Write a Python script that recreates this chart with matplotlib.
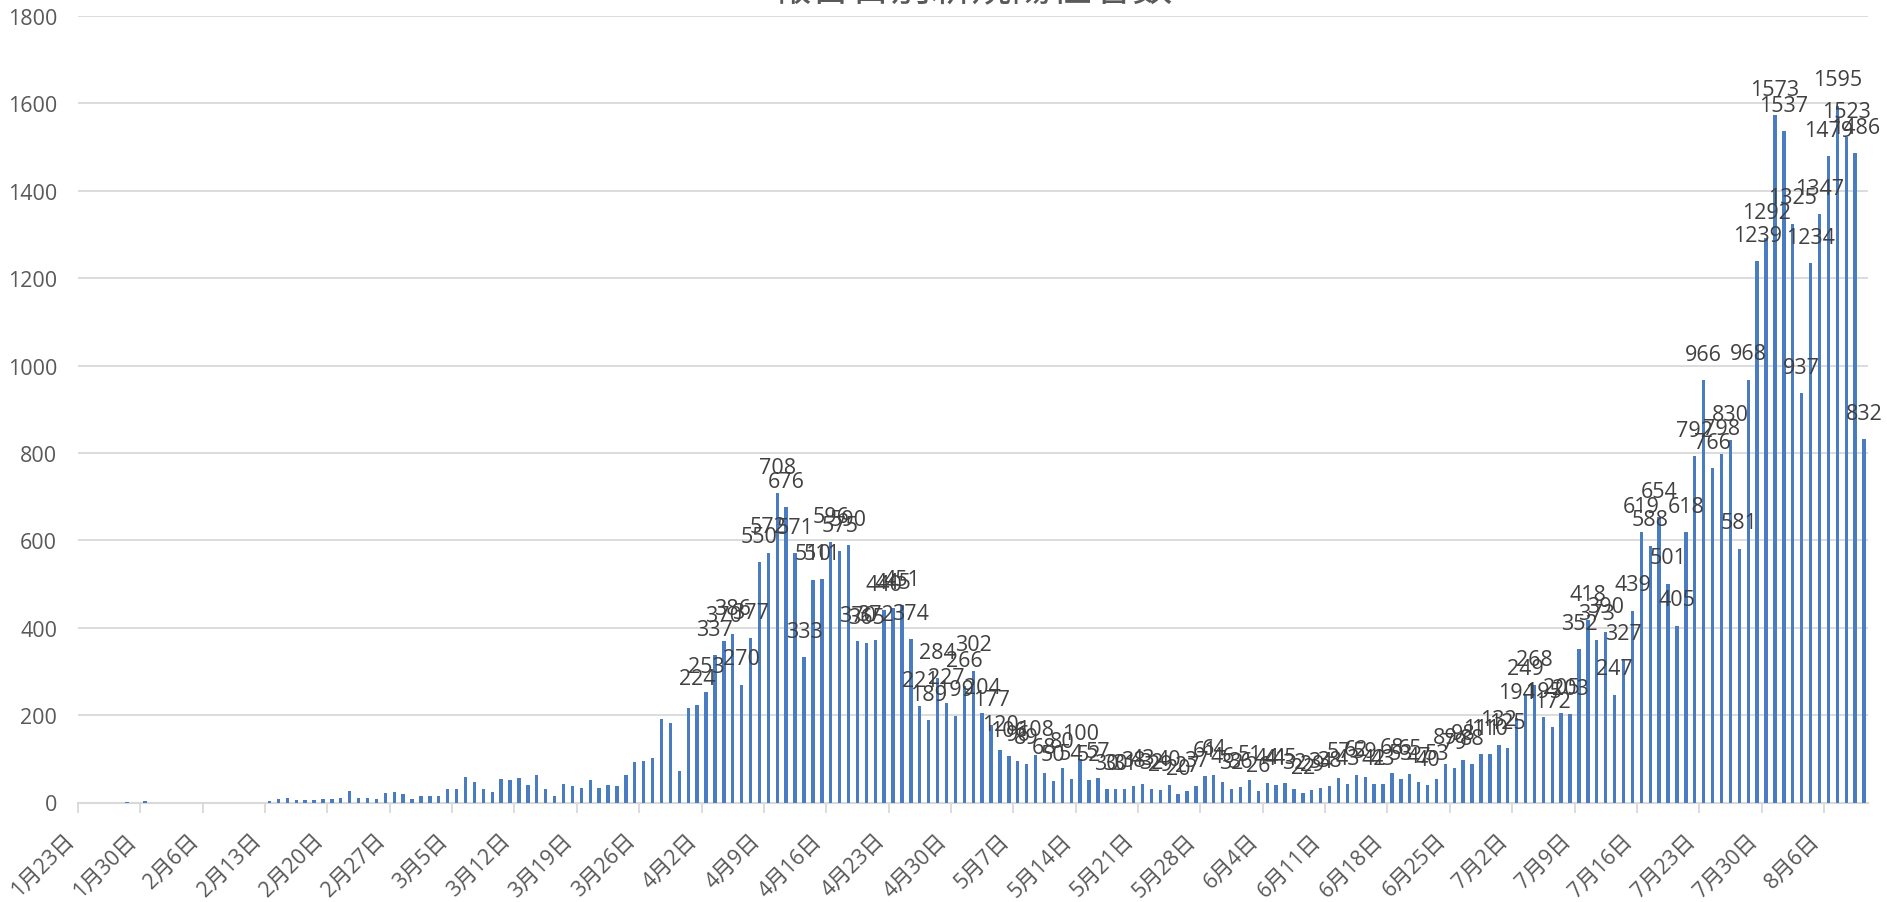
import matplotlib
matplotlib.use('Agg')
import matplotlib.pyplot as plt
import matplotlib.transforms as mtransforms
import numpy as np
import pandas as pd

plt.rcParams['font.family'] = ['Open Sans', 'Noto Sans CJK JP', 'DejaVu Sans']

# 報告日別新規陽性者数 (2020/1/23 - 8/10)
start_date = '2020-01-23'
label_start = '2020-04-01'
title = '報告日別新規陽性者数'

cases = [
    0, 0, 0, 0, 0, 2, 0, 3, 0, 0,            # 1/23 - 2/1
    0, 0, 0, 0, 0, 0, 0, 0, 0, 0,            # 2/2 - 2/11
    0, 3, 7, 11, 5, 6, 6, 9, 8, 10,          # 2/12 - 2/21
    26, 11, 11, 7, 21, 23, 19, 8, 14, 14,    # 2/22 - 3/2
    15, 32, 31, 58, 47, 32, 25, 53, 51, 55,  # 3/3 - 3/12
    40, 62, 32, 14, 42, 38, 34, 52, 33, 40,  # 3/13 - 3/22
    37, 63, 92, 95, 102, 192, 183, 73, 217, 224,   # 3/23 - 4/1
    253, 337, 370, 386, 270, 377, 550, 572, 708, 676,  # 4/2 - 4/11
    571, 333, 510, 511, 596, 575, 590, 370, 365, 372,  # 4/12 - 4/21
    440, 445, 451, 374, 221, 189, 284, 227, 199, 266,  # 4/22 - 5/1
    302, 204, 177, 120, 106, 96, 89, 108, 68, 50,      # 5/2 - 5/11
    80, 54, 100, 52, 57, 30, 30, 31, 38, 43,           # 5/12 - 5/21
    32, 29, 40, 20, 27, 37, 61, 64, 46, 32,            # 5/22 - 5/31
    36, 51, 26, 44, 41, 45, 32, 22, 29, 34,            # 6/1 - 6/10
    38, 57, 43, 62, 59, 42, 43, 68, 53, 65,            # 6/11 - 6/20
    47, 40, 53, 89, 79, 98, 88, 111, 110, 132,         # 6/21 - 6/30
    125, 194, 249, 268, 195, 172, 205, 203, 352, 418,  # 7/1 - 7/10
    373, 390, 247, 327, 439, 619, 588, 654, 501, 405,  # 7/11 - 7/20
    618, 792, 966, 766, 798, 830, 581, 968, 1239, 1292,  # 7/21 - 7/30
    1573, 1537, 1325, 937, 1234, 1347, 1479, 1595, 1523, 1486,  # 7/31 - 8/9
    832,                                               # 8/10
]

dates = pd.date_range(start_date, periods=len(cases), freq='D')
tick_dates = dates[::7]
tick_labels = [f'{d.month}月{d.day}日' for d in tick_dates]

fig = plt.figure(figsize=(18.87, 9.03), dpi=100)
ax = fig.add_axes([78 / 1887, (903 - 803.5) / 903, (1868.5 - 78) / 1887, (803.5 - 17) / 903])

x = np.arange(len(cases))
ax.bar(x + 0.5, cases, width=0.38, color='#4a7cc2', zorder=3)

# data labels from April onward
for i, (d, v) in enumerate(zip(dates, cases)):
    if d >= pd.Timestamp(label_start):
        ax.annotate(str(v), (i + 0.5, v), xytext=(0, 18.5), textcoords='offset points',
                    ha='center', va='center', fontsize=15.5, color='#404040', zorder=4)

ax.set_xlim(0, len(cases))
ax.set_ylim(0, 1800)
ax.set_yticks(range(0, 1801, 200))
ax.set_xticks(x[::7])
ax.set_xticklabels(tick_labels, rotation=45, ha='right', va='bottom', rotation_mode='anchor')
shift = mtransforms.ScaledTranslation(-10 / 100, 0, fig.dpi_scale_trans)
for lab in ax.get_xticklabels():
    lab.set_transform(lab.get_transform() + shift)

ax.yaxis.grid(True, color='#d9d9d9', linewidth=1.3)
ax.set_axisbelow(True)
for s in ['top', 'right', 'left']:
    ax.spines[s].set_visible(False)
ax.spines['bottom'].set_color('#d9d9d9')
ax.spines['bottom'].set_linewidth(1.5)
ax.tick_params(axis='y', length=0, pad=15, labelsize=15.5, labelcolor='#595959')
ax.tick_params(axis='x', length=7, width=1.3, color='#d9d9d9', pad=23,
               labelsize=15.5, labelcolor='#595959')

fig.text(0.515, 0.9992, title, ha='center', va='baseline', fontsize=29, color='#595959')

fig.savefig('out.png', dpi=100)
